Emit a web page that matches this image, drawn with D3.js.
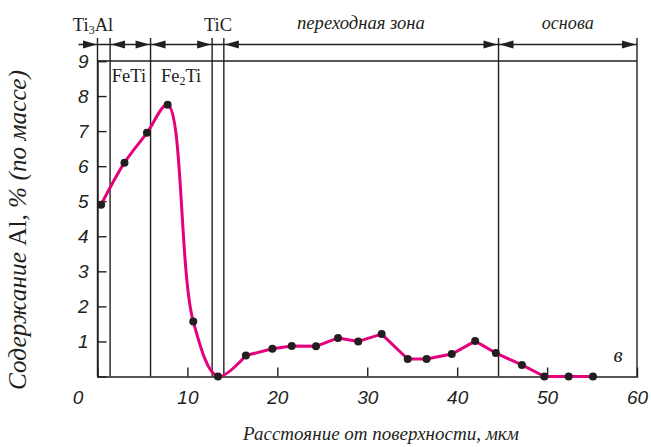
<!DOCTYPE html>
<html>
<head>
<meta charset="utf-8">
<script src="https://cdn.jsdelivr.net/npm/d3@7"></script>
<style>
  body { margin: 0; background: #fff; }
  svg { display: block; }
</style>
</head>
<body>
<div id="chart"></div>
<script>
// measured points: distance from surface (um) and Al content (wt %)
const distance = [0.4, 3.0, 5.5, 7.8, 10.65, 13.4, 16.5, 19.45, 21.6, 24.3, 26.75, 29.0,
  31.6, 34.5, 36.6, 39.4, 42.0, 44.3, 47.2, 49.7, 52.4, 55.1];
const alContent = [4.9, 6.1, 6.95, 7.75, 1.57, 0, 0.6, 0.79, 0.87, 0.86, 1.1, 1.0,
  1.21, 0.5, 0.5, 0.64, 1.01, 0.67, 0.33, 0, 0, 0];

// zone boundaries (um)
const boundaries = [0, 1.4, 5.9, 12.75, 14.05, 44.6, 60];
// double arrows between boundaries [from, to]
const arrowZones = [[1.4, 5.9], [5.9, 12.75], [14.05, 44.6], [44.6, 60]];
const xTicks = [0, 10, 20, 30, 40, 50, 60];
const yTicks = [1, 2, 3, 4, 5, 6, 7, 8, 9];

const width = 651;
const height = 447;
const ink = '#231f20';
const pink = '#e5007e';
const serif = '"Liberation Serif", "Times New Roman", serif';
const sans = '"Liberation Sans", Arial, sans-serif';

const svg = d3.select('#chart')
  .append('svg')
  .attr('width', width)
  .attr('height', height)
  .attr('xmlns', 'http://www.w3.org/2000/svg');

svg.append('rect')
  .attr('width', width)
  .attr('height', height)
  .attr('fill', '#fff');

const x = d3.scaleLinear().domain([0, 60]).range([97.5, 637]);
const y = d3.scaleLinear().domain([0, 9]).range([376.5, 61]);

const topY = 38;
const arrowY = 44.5;

// frame: top line at 9
const frame = svg.append('g')
  .attr('stroke', ink)
  .attr('stroke-width', 1.4)
  .attr('fill', 'none');

frame.append('line')
  .attr('x1', x(0)).attr('x2', x(60))
  .attr('y1', y(9)).attr('y2', y(9));

// vertical zone boundaries (incl. left axis and right edge)
boundaries.forEach((b) => {
  frame.append('line')
    .attr('x1', x(b)).attr('x2', x(b))
    .attr('y1', topY).attr('y2', y(0));
});

// arrow line on top
frame.append('line')
  .attr('x1', x(0) - 19).attr('x2', x(60))
  .attr('y1', arrowY).attr('y2', arrowY);

const arrowHead = (tip, dir) => {
  const len = 14;
  const hw = 4;
  svg.append('path')
    .attr('d', `M${tip},${arrowY} L${tip - dir * len},${arrowY - hw} L${tip - dir * len},${arrowY + hw} Z`)
    .attr('fill', ink);
};

// single arrow pointing at the surface
arrowHead(x(0) - 0.5, 1);
arrowZones.forEach(([a, b]) => {
  arrowHead(x(a) + 1, -1);
  arrowHead(x(b) - 1, 1);
});

// axes
const yAxis = d3.axisLeft(y)
  .tickValues(yTicks)
  .tickSize(-9)
  .tickPadding(9)
  .tickFormat(d3.format('d'));

const yg = svg.append('g')
  .attr('transform', `translate(${x(0)},0)`)
  .call(yAxis);
yg.select('.domain').attr('stroke', ink).attr('stroke-width', 1.4);
yg.selectAll('.tick line').attr('stroke', ink).attr('stroke-width', 1.4);
yg.selectAll('.tick text')
  .attr('fill', ink)
  .style('font-family', sans)
  .style('font-style', 'italic')
  .style('font-size', '19px');

const xAxis = d3.axisBottom(x)
  .tickValues(xTicks)
  .tickSize(-9)
  .tickPadding(14)
  .tickFormat(d3.format('d'));

const xg = svg.append('g')
  .attr('transform', `translate(0,${y(0)})`)
  .call(xAxis);
xg.select('.domain').attr('stroke', ink).attr('stroke-width', 1.4);
xg.selectAll('.tick line')
  .attr('stroke', ink)
  .attr('stroke-width', 1.4)
  .attr('display', (d) => (d === 0 || d === 60 ? 'none' : null));
xg.selectAll('.tick text')
  .attr('fill', ink)
  .attr('dx', (d) => (d === 0 ? -20 : 0))
  .style('font-family', sans)
  .style('font-style', 'italic')
  .style('font-size', '19px');

// data curve: smooth near the surface, straight segments further in
const pts = distance.map((d, i) => [d, alContent[i]]);
const smoothPart = pts.slice(0, 7);
const straightPart = pts.slice(6);

const smoothLine = d3.line()
  .x((d) => x(d[0]))
  .y((d) => y(d[1]))
  .curve(d3.curveCatmullRom.alpha(0.5));

const straightLine = d3.line()
  .x((d) => x(d[0]))
  .y((d) => y(d[1]));

[[smoothPart, smoothLine], [straightPart, straightLine]].forEach(([part, gen]) => {
  svg.append('path')
    .datum(part)
    .attr('d', gen)
    .attr('fill', 'none')
    .attr('stroke', pink)
    .attr('stroke-width', 3)
    .attr('stroke-linejoin', 'round');
});

svg.append('g')
  .selectAll('circle')
  .data(pts)
  .enter()
  .append('circle')
  .attr('cx', (d) => x(d[0]))
  .attr('cy', (d) => y(d[1]))
  .attr('r', 4)
  .attr('fill', ink);

// squeeze/stretch a text to a measured width by its font size
const fitWidth = (t, target) => {
  const fs = parseFloat(t.style('font-size'));
  const w = t.node().getComputedTextLength();
  if (w > 0) t.style('font-size', `${(fs * target / w).toFixed(2)}px`);
  return t;
};

// zone labels
const label = (tx, ty, parts, italic) => {
  const t = svg.append('text')
    .attr('x', tx)
    .attr('y', ty)
    .attr('text-anchor', 'middle')
    .attr('fill', ink)
    .style('font-family', serif)
    .style('font-size', '18.5px')
    .style('font-style', italic ? 'italic' : 'normal');
  parts.forEach(([str, sub]) => {
    const s = t.append('tspan').text(str);
    if (sub) s.attr('font-size', '12px').attr('baseline-shift', '-3');
  });
  return t;
};

label(x(-0.5), 31, [['Ti'], ['3', true], ['Al']]);
label(x(13.4), 31, [['TiC']]);
label(x(3.5), 82, [['FeTi']]);
label(x(9.3), 82, [['Fe'], ['2', true], ['Ti']]);
fitWidth(label(x(29.3), 29, [['переходная зона']], true), 128);
fitWidth(label(x(52.3), 29, [['основа']], true), 52);
label(x(57.9), 362, [['в']], true).style('font-size', '21px');

// axis titles
const xTitle = svg.append('text')
  .attr('x', 381)
  .attr('y', 440)
  .attr('text-anchor', 'middle')
  .attr('fill', ink)
  .style('font-family', serif)
  .style('font-style', 'italic')
  .style('font-size', '19px')
  .text('Расстояние от поверхности, мкм');
fitWidth(xTitle, 276);

const yTitle = svg.append('text')
  .attr('transform', 'translate(26,230) rotate(-90)')
  .attr('text-anchor', 'middle')
  .attr('fill', ink)
  .style('font-family', serif)
  .style('font-style', 'italic')
  .style('font-size', '19px');
yTitle.append('tspan').text('Содержание ');
yTitle.append('tspan').style('font-style', 'normal').text('Al');
yTitle.append('tspan').text(', % (по массе)');
fitWidth(yTitle, 320);
</script>
</body>
</html>
